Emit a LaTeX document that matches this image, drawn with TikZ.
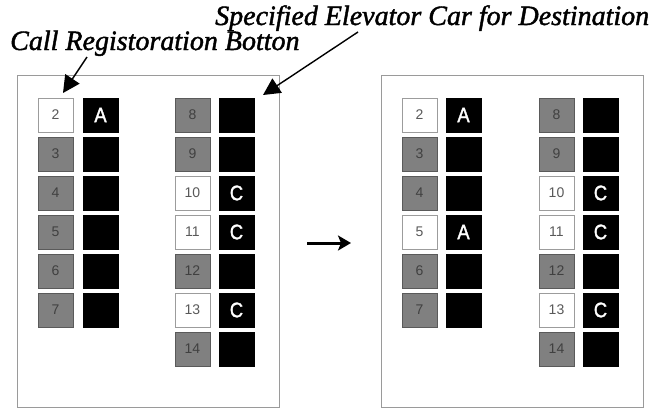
\documentclass[tikz,border=0pt]{standalone}
\usepackage{fontspec}
\setmainfont{Liberation Serif}
\newfontfamily\numfont{Liberation Sans}
\newfontfamily\carfont{Liberation Sans}[FakeStretch=0.88,FakeBold=1.5]
\newfontfamily\lblfont{Liberation Serif Italic}[FakeBold=1.5]
\usetikzlibrary{arrows.meta}
\definecolor{btngray}{HTML}{808080}
\definecolor{btnedge}{HTML}{5A5A5A}
\definecolor{panedge}{HTML}{9A9A9A}
\tikzset{
  panel/.style={draw=panedge, line width=1.3pt, fill=white},
  btnon/.style={draw=btnedge!60, line width=1pt, fill=white, minimum width=35pt, minimum height=34pt, inner sep=0pt, font=\numfont\fontsize{14}{14}\selectfont, text=black!65},
  btnoff/.style={draw=btnedge, line width=1pt, fill=btngray, minimum width=35pt, minimum height=34pt, inner sep=0pt, font=\numfont\fontsize{14}{14}\selectfont, text=black!75},
  car/.style={draw=black, fill=black, minimum width=35pt, minimum height=34pt, inner sep=0pt, font=\carfont\fontsize{21}{21}\selectfont, text=white},
  lbl/.style={anchor=base west, inner sep=0pt, font=\lblfont\fontsize{28}{28}\selectfont},
  callarrow/.style={-{Triangle[length=17pt,width=17pt]}, line width=1.4pt},
  bigarrow/.style={-{Stealth[length=13pt,width=15pt,inset=3pt]}, line width=3pt}
}
\begin{document}
\begin{tikzpicture}[x=1pt,y=-1pt]
\useasboundingbox (0,0) rectangle (654,410);
% panels
\node[panel, minimum width=262pt, minimum height=332pt, inner sep=0pt, anchor=north west] (P1) at (17,75) {};
\node[panel, minimum width=262pt, minimum height=332pt, inner sep=0pt, anchor=north west] (P2) at (381,75) {};
% left panel buttons
\foreach \f/\st/\c [count=\i] in {2/btnon/A,3/btnoff/,4/btnoff/,5/btnoff/,6/btnoff/,7/btnoff/}{
  \node[\st] (L\f) at (55.5,{115+39*(\i-1)}) {\f};
  \node[car] (LC\f) at (100.5,{115+39*(\i-1)}) {\c};
}
\foreach \f/\st/\c [count=\i] in {8/btnoff/,9/btnoff/,10/btnon/C,11/btnon/C,12/btnoff/,13/btnon/C,14/btnoff/}{
  \node[\st] (L\f) at (192.5,{115+39*(\i-1)}) {\f};
  \node[car] (LC\f) at (236.5,{115+39*(\i-1)}) {\c};
}
% right panel buttons
\foreach \f/\st/\c [count=\i] in {2/btnon/A,3/btnoff/,4/btnoff/,5/btnon/A,6/btnoff/,7/btnoff/}{
  \node[\st] (R\f) at (419.5,{115+39*(\i-1)}) {\f};
  \node[car] (RC\f) at (463.5,{115+39*(\i-1)}) {\c};
}
\foreach \f/\st/\c [count=\i] in {8/btnoff/,9/btnoff/,10/btnon/C,11/btnon/C,12/btnoff/,13/btnon/C,14/btnoff/}{
  \node[\st] (R\f) at (556.5,{115+39*(\i-1)}) {\f};
  \node[car] (RC\f) at (600.5,{115+39*(\i-1)}) {\c};
}
% labels
\node[lbl] (T1) at (10,50) {Call Registoration Botton};
\node[lbl] (T2) at (215,25) {Specified Elevator Car for Destination};
\coordinate (s1) at (87,57);
\coordinate (e1) at (63,93);
\coordinate (s2) at (358,32);
\coordinate (e2) at (263,95);
\draw[callarrow] (s1) -- (e1);
\draw[callarrow] (s2) -- (e2);
% middle arrow
\coordinate (m1) at (307,243);
\coordinate (m2) at (351,243);
\draw[bigarrow] (m1) -- (m2);
\end{tikzpicture}
\end{document}
